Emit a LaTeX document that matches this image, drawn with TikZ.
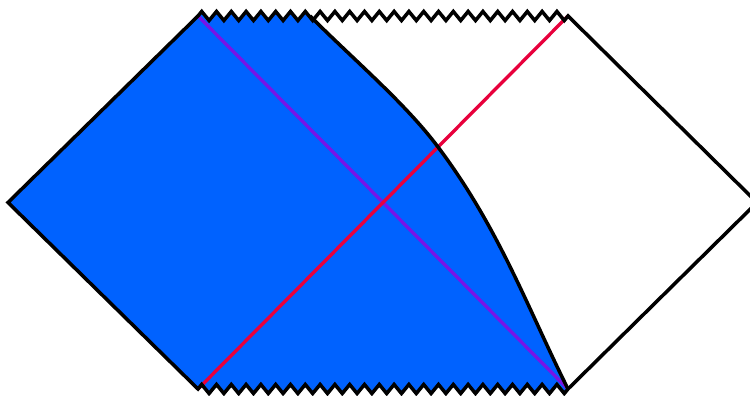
\documentclass[tikz,border=0pt]{standalone}
\definecolor{fillblue}{RGB}{0,98,255}
\definecolor{violetline}{RGB}{120,20,230}
\definecolor{redline}{RGB}{232,0,60}
\begin{document}
\begin{tikzpicture}[
  outline/.style={line width=1pt},
  ray/.style={line width=0.95pt}]
\useasboundingbox (0,0) rectangle (7.5,3.96);
\coordinate (L) at (0.08,1.935);
\coordinate (TL) at (1.98,3.80);
\coordinate (TR) at (5.68,3.80);
\coordinate (R) at (7.57,1.935);
\coordinate (BR) at (5.68,0.07);
\coordinate (BL) at (1.98,0.07);
\coordinate (P) at (3.10,3.80);
\coordinate (M) at (4.38,2.49);
% region left of the curve
\begin{scope}
\clip (0,-0.2) -- (0,4.2) -- (2.95,4.2) -- (2.99,3.91) -- (P)
  .. controls (3.54,3.36) and (4.05,2.93) .. (M)
  .. controls (4.99,1.68) and (5.28,0.87) .. (BR) -- (5.72,-0.2) -- cycle;
\fill[fillblue] (L) -- (TL)
  \foreach \i in {1,...,25} { -- ++(0.037,0.045) -- ++(0.074,-0.09) -- ++(0.037,0.045) }
  -- (R) -- (BR)
  \foreach \i in {1,...,25} { -- ++(-0.037,-0.045) -- ++(-0.074,0.09) -- ++(-0.037,-0.045) }
  -- cycle;
\end{scope}
\draw[ray,violetline] (TL) -- (BR);
\draw[ray,redline] (BL) -- (TR);
\draw[outline] (P) .. controls (3.54,3.36) and (4.05,2.93) .. (M)
  .. controls (4.99,1.68) and (5.28,0.87) .. (BR);
\draw[outline] (L) -- (TL)
  \foreach \i in {1,...,25} { -- ++(0.037,0.045) -- ++(0.074,-0.09) -- ++(0.037,0.045) }
  -- (R) -- (BR)
  \foreach \i in {1,...,25} { -- ++(-0.037,-0.045) -- ++(-0.074,0.09) -- ++(-0.037,-0.045) }
  -- cycle;
\end{tikzpicture}
\end{document}
